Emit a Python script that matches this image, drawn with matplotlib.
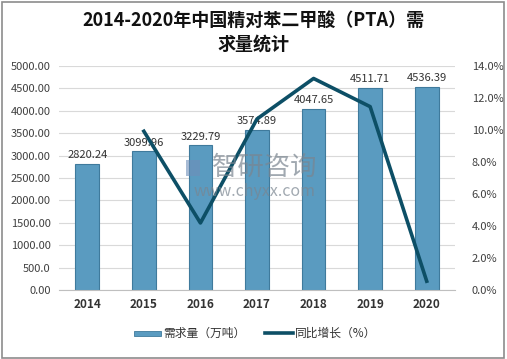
import matplotlib
matplotlib.use("Agg")
import matplotlib.pyplot as plt
from matplotlib.patches import Rectangle

plt.rcParams['font.family'] = ['Noto Sans CJK SC', 'DejaVu Sans']

years = ["2014", "2015", "2016", "2017", "2018", "2019", "2020"]
demand = [2820.24, 3099.96, 3229.79, 3574.89, 4047.65, 4511.71, 4536.39]
growth_years = ["2015", "2016", "2017", "2018", "2019", "2020"]
growth = [9.92, 4.19, 10.69, 13.22, 11.46, 0.55]
left_ticks = [0, 500, 1000, 1500, 2000, 2500, 3000, 3500, 4000, 4500, 5000]
right_ticks = [0, 2, 4, 6, 8, 10, 12, 14]

W, H = 507, 359
fig = plt.figure(figsize=(W / 100, H / 100), dpi=100)
fig.patches.append(Rectangle((0.004, 0.004), 0.99, 0.99, transform=fig.transFigure,
                             fill=False, edgecolor='#8c8c8c', linewidth=1.2))

ax = fig.add_axes([59 / W, 1 - 290 / H, (455 - 59) / W, (290 - 66) / H])
x = list(range(len(years)))
ax.bar(x, demand, width=0.42, color='#5a9bc0', edgecolor='#3f7a9c', linewidth=0.8, zorder=2)
for xi, v in zip(x, demand):
    ax.text(xi, v + 80, f"{v:.2f}", ha='center', va='bottom', fontsize=8, color='#333333', zorder=4)
ax.set_xlim(-0.5, len(years) - 0.5)
ax.set_ylim(0, 5000)
ax.set_yticks(left_ticks)
ax.set_yticklabels([f"{t:.2f}" if t != 500 else "500.0" for t in left_ticks], fontsize=8, color='#404040')
ax.set_xticks(x)
ax.set_xticklabels(years, fontsize=8.5, fontweight='bold', color='#333333')
ax.grid(axis='y', color='#d9d9d9', linewidth=0.8, zorder=0)
ax.set_axisbelow(True)
for s in ['left', 'right', 'top']:
    ax.spines[s].set_visible(False)
ax.spines['bottom'].set_color('#bfbfbf')
ax.tick_params(axis='both', length=0, pad=6)

ax2 = ax.twinx()
gx = [years.index(y) for y in growth_years]
ax2.plot(gx, growth, color='#0d4f66', linewidth=2.6, zorder=3)
ax2.set_ylim(0, 14)
ax2.set_yticks(right_ticks)
ax2.set_yticklabels([f"{t:.1f}%" for t in right_ticks], fontsize=8, color='#404040')
for s in ['left', 'right', 'top', 'bottom']:
    ax2.spines[s].set_visible(False)
ax2.tick_params(axis='y', length=0, pad=12)

fig.text(0.5, 1 - 20 / H, "2014-2020年中国精对苯二甲酸（PTA）需", ha='center', va='center',
         fontsize=13, fontweight='bold', color='#111111')
fig.text(0.5, 1 - 44 / H, "求量统计", ha='center', va='center',
         fontsize=13, fontweight='bold', color='#111111')

# watermark
fig.patches.append(Rectangle((186 / W, 1 - 176 / H), 14 / W, 16 / H, transform=fig.transFigure,
                             facecolor='#6f8fb8', edgecolor='none', alpha=0.6, zorder=5))
fig.text(265 / W, 1 - 167 / H, "智研咨询", ha='center', va='center', fontsize=19,
         color='#7a8590', alpha=0.7, zorder=5)
fig.text(255 / W, 1 - 192 / H, "www.chyxx.com", ha='center', va='center', fontsize=11.5,
         color='#7a8590', alpha=0.7, zorder=5)

# legend
fig.patches.append(Rectangle((134 / W, 1 - 336 / H), 27 / W, 5 / H, transform=fig.transFigure,
                             facecolor='#5a9bc0', edgecolor='#3f7a9c', linewidth=0.6))
fig.text(163 / W, 1 - 333 / H, "需求量（万吨）", ha='left', va='center', fontsize=8.5, color='#333333')
fig.lines.append(plt.Line2D([265 / W, 293 / W], [1 - 333 / H, 1 - 333 / H], transform=fig.transFigure,
                            color='#0d4f66', linewidth=2.6))
fig.text(295 / W, 1 - 333 / H, "同比增长（%）", ha='left', va='center', fontsize=8.5, color='#333333')

fig.savefig("out.png", dpi=100)
